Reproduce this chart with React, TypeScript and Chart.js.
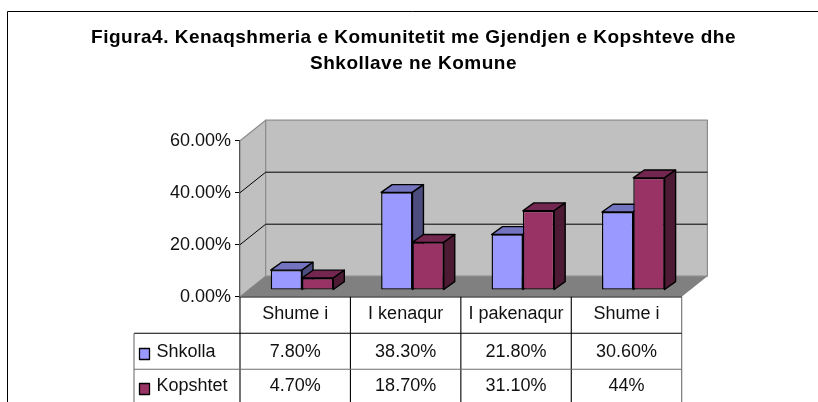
import React, { useEffect, useRef } from "react";
import { Chart, registerables } from "chart.js";

Chart.register(...registerables);

const categories = ["Shume i", "I kenaqur", "I pakenaqur", "Shume i"];
const shkollaValues = [0.078, 0.383, 0.218, 0.306];
const kopshtetValues = [0.047, 0.187, 0.311, 0.44];
const shkollaLabels = ["7.80%", "38.30%", "21.80%", "30.60%"];
const kopshtetLabels = ["4.70%", "18.70%", "31.10%", "44%"];
const titleLines = [
  "Figura4. Kenaqshmeria e Komunitetit me Gjendjen e Kopshteve dhe",
  "Shkollave ne Komune",
];

const W = 818;
const H = 402;
const FONT = '"Liberation Sans", Arial, sans-serif';
const DEPTH = { dx: 25.7, dy: -20.5 };
const BAR_SHIFT = { dx: 6.8, dy: -6.7 };
const BAR_DEPTH = { dx: 11, dy: -8 };
const BAR_PERSPECTIVE = 0.98;
const TABLE = { left: 134, row1: 333.3, row2: 369.3 };
const faces = [
  { top: "#7373BF", side: "#4D4D80" },
  { top: "#732650", side: "#4D1A33" },
];

function poly(ctx: CanvasRenderingContext2D, pts: number[][], fill: string, stroke: string, lw: number) {
  ctx.beginPath();
  pts.forEach((p, i) => (i ? ctx.lineTo(p[0], p[1]) : ctx.moveTo(p[0], p[1])));
  ctx.closePath();
  ctx.fillStyle = fill;
  ctx.fill();
  if (lw > 0) {
    ctx.strokeStyle = stroke;
    ctx.lineWidth = lw;
    ctx.lineJoin = "round";
    ctx.stroke();
  }
}

function seg(ctx: CanvasRenderingContext2D, x1: number, y1: number, x2: number, y2: number, color: string, lw: number) {
  ctx.beginPath();
  ctx.moveTo(x1, y1);
  ctx.lineTo(x2, y2);
  ctx.strokeStyle = color;
  ctx.lineWidth = lw;
  ctx.stroke();
}

const scenePlugin = {
  id: "scene",
  beforeDatasetsDraw(chart: any) {
    const { ctx, chartArea: a, scales } = chart;
    const y = scales.y;
    const { dx, dy } = DEPTH;
    ctx.save();
    // frame and title
    seg(ctx, 7.5, 11.5, W, 11.5, "#000", 1);
    seg(ctx, 7.5, 11.5, 7.5, H, "#000", 1);
    ctx.fillStyle = "#000";
    ctx.font = `bold 19px ${FONT}`;
    (ctx as any).letterSpacing = "0.5px";
    ctx.textAlign = "center";
    ctx.textBaseline = "alphabetic";
    ctx.fillText(titleLines[0], 413.5, 42.5);
    ctx.fillText(titleLines[1], 413.5, 69);
    (ctx as any).letterSpacing = "0px";
    // walls and floor
    const gray = "#8C8C8C";
    poly(ctx, [[a.left, a.bottom], [a.left + dx, a.bottom + dy], [a.left + dx, a.top + dy], [a.left, a.top]], "#C0C0C0", gray, 1.2);
    poly(ctx, [[a.left + dx, a.bottom + dy], [a.right + dx, a.bottom + dy], [a.right + dx, a.top + dy], [a.left + dx, a.top + dy]], "#C0C0C0", gray, 1.2);
    poly(ctx, [[a.left, a.bottom], [a.right, a.bottom], [a.right + dx, a.bottom + dy], [a.left + dx, a.bottom + dy]], "#808080", "#808080", 0);
    for (const t of [0.2, 0.4]) {
      const py = y.getPixelForValue(t);
      seg(ctx, a.left, py, a.left + dx, py + dy, "#000", 1);
      seg(ctx, a.left + dx, py + dy, a.right + dx, py + dy, "#000", 1);
    }
    // data table
    const xs = [a.left, ...categories.map((_, i) => chart.scales.x.getPixelForValue(i) + (a.right - a.left) / categories.length / 2)];
    xs.forEach((x: number, i: number) => seg(ctx, x, a.bottom, x, H, i === xs.length - 1 ? "#6E6E6E" : "#000", 1.1));
    seg(ctx, TABLE.left, TABLE.row1, a.right, TABLE.row1, "#000", 1.1);
    seg(ctx, TABLE.left, TABLE.row2, a.right, TABLE.row2, "#6E6E6E", 1.1);
    seg(ctx, TABLE.left, TABLE.row1, TABLE.left, H, "#6E6E6E", 1.1);
    ctx.font = `18px ${FONT}`;
    ctx.fillStyle = "#111";
    ctx.textBaseline = "middle";
    [shkollaLabels, kopshtetLabels].forEach((row, r) => {
      const cy = r === 0 ? 352 : 386.5;
      row.forEach((txt, i) => {
        ctx.textAlign = "center";
        ctx.fillStyle = "#111";
        ctx.fillText(txt, chart.scales.x.getPixelForValue(i), cy);
      });
      ctx.textAlign = "left";
      ctx.fillText(chart.data.datasets[r].label, 156.5, cy);
      ctx.fillStyle = chart.data.datasets[r].backgroundColor;
      ctx.strokeStyle = "#000";
      ctx.lineWidth = 1.3;
      const top = r === 0 ? 348.5 : 383.5;
      ctx.fillRect(139.5, top, 10, 11);
      ctx.strokeRect(139.5, top, 10, 11);
    });
    ctx.restore();
  },
  // Chart.js paints datasets last-to-first; the 3D overlap needs first-to-last.
  beforeDatasetDraw() {
    return false;
  },
  afterDatasetsDraw(chart: any) {
    const { ctx, chartArea: a } = chart;
    const { dx, dy } = BAR_DEPTH;
    chart.data.datasets.forEach((_: any, i: number) => {
      const meta = chart.getDatasetMeta(i);
      const f = faces[i];
      ctx.save();
      ctx.translate(BAR_SHIFT.dx, BAR_SHIFT.dy + a.bottom);
      ctx.scale(1, BAR_PERSPECTIVE);
      ctx.translate(0, -a.bottom);
      meta.data.forEach((bar: any) => {
        const l = bar.x - bar.width / 2;
        const r = bar.x + bar.width / 2;
        const t = bar.y;
        const b = bar.base;
        poly(ctx, [[l, t], [r, t], [r + dx, t + dy], [l + dx, t + dy]], f.top, "#000", 1.4);
        poly(ctx, [[r, t], [r + dx, t + dy], [r + dx, b + dy], [r, b]], f.side, "#000", 1.4);
      });
      meta.controller.draw();
      ctx.restore();
    });
  },
};

export default function App() {
  const ref = useRef<HTMLCanvasElement>(null);
  useEffect(() => {
    const chart = new Chart(ref.current as HTMLCanvasElement, {
      type: "bar",
      data: {
        labels: categories,
        datasets: [
          { label: "Shkolla", data: shkollaValues, backgroundColor: "#9999FF", borderColor: "#000", borderWidth: 1.4, borderSkipped: false, clip: false },
          { label: "Kopshtet", data: kopshtetValues, backgroundColor: "#993366", borderColor: "#000", borderWidth: 1.4, borderSkipped: false, clip: false },
        ] as any,
      },
      options: {
        responsive: false,
        animation: false,
        devicePixelRatio: 1,
        layout: { padding: { left: 0, right: 136.3, top: 140.7, bottom: 65.3 } },
        plugins: { legend: { display: false }, tooltip: { enabled: false } },
        datasets: { bar: { categoryPercentage: 0.567, barPercentage: 1 } },
        scales: {
          x: {
            afterFit: (s: any) => { s.height = 40; },
            grid: { display: false },
            border: { color: "#000", width: 1.5 },
            ticks: { color: "#111", padding: -1, maxRotation: 0, autoSkip: false, font: { family: FONT, size: 18 } },
          },
          y: {
            min: 0,
            max: 0.6,
            afterFit: (s: any) => { s.width = 240; },
            grid: { drawOnChartArea: false, color: "#000", tickLength: 5 },
            border: { color: "#000", width: 1.2 },
            ticks: {
              stepSize: 0.2,
              color: "#111",
              padding: 4,
              font: { family: FONT, size: 18 },
              callback: (v: any) => (Number(v) * 100).toFixed(2) + "%",
            },
          },
        },
      },
      plugins: [scenePlugin],
    } as any);
    return () => chart.destroy();
  }, []);
  return (
    <div style={{ position: "fixed", left: 0, top: 0, width: W, height: H, background: "#fff" }}>
      <canvas ref={ref} width={W} height={H} style={{ display: "block" }} />
    </div>
  );
}
